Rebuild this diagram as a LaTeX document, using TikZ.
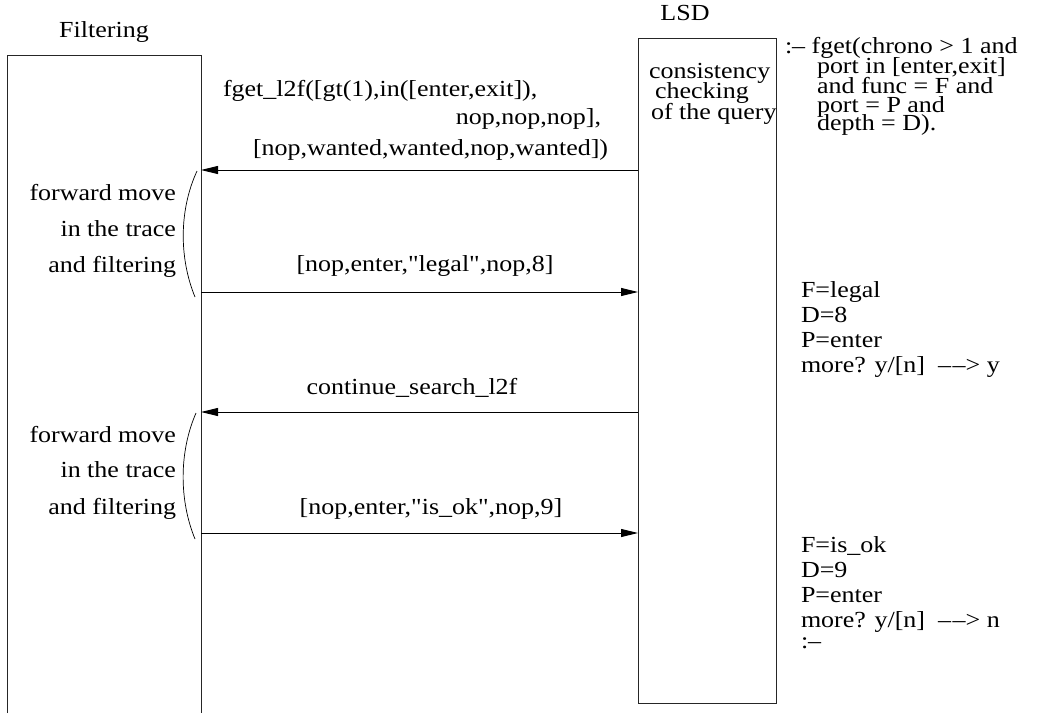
\documentclass[tikz,border=0pt]{standalone}
\usepackage{fontspec}
\setmainfont{Liberation Serif}[FakeStretch=1.13,Ligatures=TeXOff]
\usetikzlibrary{arrows.meta}
\begin{document}
\begin{tikzpicture}[x=1pt,y=-1pt,
  font=\fontsize{23}{27}\selectfont,
  txt/.style={inner sep=0pt, outer sep=0pt},
  msg/.style={line width=0.9pt, -{Triangle[length=17pt,width=8pt]}},
  life/.style={line width=1pt, draw=black!85},
  bracket/.style={line width=0.7pt}]
\useasboundingbox (0,0) rectangle (1045,713);

% lifelines
\coordinate (fbl) at (7,713);
\coordinate (ftl) at (7,55);
\coordinate (ftr) at (201,55);
\coordinate (fbr) at (201,713);
\draw[life] (fbl) -- (ftl) -- (ftr) -- (fbr);
\node[life, draw, minimum width=138pt, minimum height=665.5pt, inner sep=0pt, anchor=north west] (lsd) at (638,37.5) {};

% titles
\node[txt, anchor=base] (tfilt) at (104,37) {Filtering};
\node[txt, anchor=base] (tlsd) at (685,20) {LSD};

% LSD inner text
\node[txt, anchor=base west] (c1) at (649,78) {consistency};
\node[txt, anchor=base west] (c2) at (655,98) {checking};
\node[txt, anchor=base west] (c3) at (651,119) {of the query};

% message anchors
\coordinate (f1) at (201,170); \coordinate (l1) at (638,170);
\coordinate (f2) at (201,292); \coordinate (l2) at (638,292);
\coordinate (f3) at (201,412); \coordinate (l3) at (638,412);
\coordinate (f4) at (201,533); \coordinate (l4) at (638,533);

\draw[msg] (l1) -- (f1);
\draw[msg] (f2) -- (l2);
\draw[msg] (l3) -- (f3);
\draw[msg] (f4) -- (l4);

% message labels
\node[txt, anchor=base west] (m1a) at (223,96) {fget\_l2f([gt(1),in([enter,exit]),};
\node[txt, anchor=base east] (m1b) at (601,124) {nop,nop,nop],};
\node[txt, anchor=base west] (m1c) at (253,155) {[nop,wanted,wanted,nop,wanted])};
\node[txt, anchor=base] (m2) at (425,271) {[nop,enter,"legal",nop,8]};
\node[txt, anchor=base] (m3) at (412,394) {continue\_search\_l2f};
\node[txt, anchor=base] (m4) at (431,514) {[nop,enter,"is\_ok",nop,9]};

% brackets
\coordinate (b1s) at (197,171); \coordinate (b1e) at (195,297);
\draw[bracket] (b1s) .. controls (179,210) and (179,258) .. (b1e);
\coordinate (b2s) at (196,413); \coordinate (b2e) at (195,539);
\draw[bracket] (b2s) .. controls (179,452) and (179,500) .. (b2e);

% left comments
\node[txt, anchor=base east] (a1) at (176,200) {forward move};
\node[txt, anchor=base east] (a2) at (176,236) {in the trace};
\node[txt, anchor=base east] (a3) at (176,272) {and filtering};
\node[txt, anchor=base east] (b1) at (176,442) {forward move};
\node[txt, anchor=base east] (b2) at (176,477) {in the trace};
\node[txt, anchor=base east] (b3) at (176,514) {and filtering};

% query text
\node[txt, anchor=base west] (q1) at (785,53) {:\textendash{} fget(chrono > 1 and};
\node[txt, anchor=base west] (q2) at (817,73) {port in [enter,exit]};
\node[txt, anchor=base west] (q3) at (817,93) {and func = F and};
\node[txt, anchor=base west] (q4) at (817,112) {port = P and};
\node[txt, anchor=base west] (q5) at (817,130) {depth = D).};

% answers
\node[txt, anchor=base west] (r1) at (801,297) {F=legal};
\node[txt, anchor=base west] (r2) at (801,322) {D=8};
\node[txt, anchor=base west] (r3) at (801,347) {P=enter};
\node[txt, anchor=base west] (r4) at (801,372) {more? y/[n]\ \ \textendash\hspace{1.5pt}\textendash> y};
\node[txt, anchor=base west] (s1) at (801,552) {F=is\_ok};
\node[txt, anchor=base west] (s2) at (801,577) {D=9};
\node[txt, anchor=base west] (s3) at (801,602) {P=enter};
\node[txt, anchor=base west] (s4) at (801,627) {more? y/[n]\ \ \textendash\hspace{1.5pt}\textendash> n};
\node[txt, anchor=base west] (s5) at (801,648) {:\textendash};
\end{tikzpicture}
\end{document}
